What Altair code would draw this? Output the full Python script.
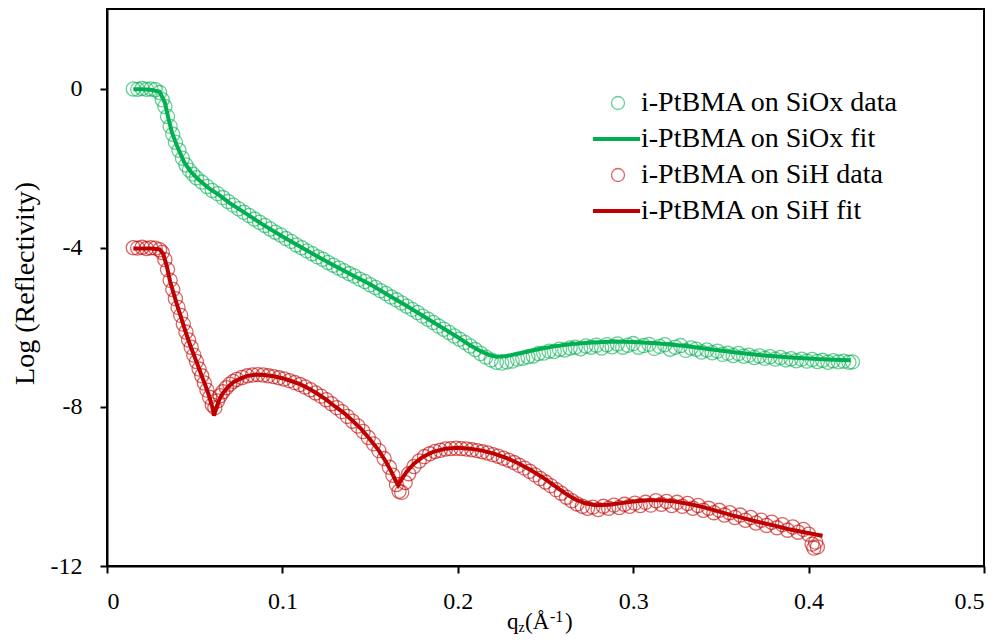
import altair as alt
import pandas as pd

S1 = "i-PtBMA on SiOx data"
S2 = "i-PtBMA on SiOx fit"
S3 = "i-PtBMA on SiH data"
S4 = "i-PtBMA on SiH fit"

GREEN = "#00b050"
RED = "#c00000"
FONT = "Liberation Serif"

# ---- i-PtBMA on SiOx : data ----
siox_data_q = [0.015, 0.0175, 0.020, 0.0225, 0.025, 0.0275, 0.030, 0.0315, 0.033, 0.0345,
               0.036, 0.0375, 0.039, 0.041, 0.043, 0.045, 0.047, 0.049, 0.051, 0.054,
               0.057, 0.060, 0.063, 0.066, 0.069, 0.072, 0.075, 0.078, 0.081, 0.084,
               0.087, 0.090, 0.093, 0.096, 0.099, 0.102, 0.105, 0.108, 0.111, 0.114,
               0.117, 0.120, 0.123, 0.126, 0.129, 0.132, 0.135, 0.138, 0.141, 0.144,
               0.147, 0.150, 0.153, 0.156, 0.159, 0.162, 0.165, 0.168, 0.171, 0.174,
               0.177, 0.180, 0.183, 0.186, 0.189, 0.192, 0.195, 0.198, 0.201, 0.204,
               0.207, 0.210, 0.213, 0.216, 0.219, 0.222, 0.225, 0.228, 0.231, 0.234,
               0.237, 0.240, 0.243, 0.246, 0.249, 0.252, 0.255, 0.258, 0.261, 0.264,
               0.267, 0.270, 0.273, 0.276, 0.279, 0.282, 0.285, 0.288, 0.291, 0.294,
               0.297, 0.300, 0.303, 0.306, 0.309, 0.312, 0.315, 0.318, 0.321, 0.324,
               0.327, 0.330, 0.333, 0.336, 0.339, 0.342, 0.345, 0.348, 0.351, 0.354,
               0.357, 0.360, 0.363, 0.366, 0.369, 0.372, 0.375, 0.378, 0.381, 0.384,
               0.387, 0.390, 0.393, 0.396, 0.399, 0.402, 0.405, 0.408, 0.411, 0.414,
               0.417, 0.420, 0.423, 0.425]
siox_data_r = [-0.01, -0.02, 0.00, -0.02, -0.01, -0.03, -0.10, -0.28, -0.45, -0.70,
               -0.95, -1.15, -1.35, -1.55, -1.75, -1.92, -2.05, -2.15, -2.24, -2.35,
               -2.46, -2.56, -2.64, -2.74, -2.84, -2.93, -3.02, -3.11, -3.19, -3.28,
               -3.36, -3.44, -3.53, -3.61, -3.68, -3.77, -3.84, -3.93, -4.00, -4.08,
               -4.15, -4.23, -4.29, -4.37, -4.44, -4.51, -4.58, -4.65, -4.71, -4.79,
               -4.85, -4.93, -5.00, -5.08, -5.15, -5.24, -5.31, -5.39, -5.47, -5.55,
               -5.63, -5.72, -5.80, -5.88, -5.97, -6.05, -6.13, -6.22, -6.30, -6.38,
               -6.47, -6.56, -6.66, -6.75, -6.82, -6.88, -6.90, -6.87, -6.85, -6.80,
               -6.78, -6.74, -6.72, -6.66, -6.65, -6.60, -6.61, -6.55, -6.57, -6.52,
               -6.50, -6.54, -6.47, -6.50, -6.45, -6.52, -6.44, -6.49, -6.42, -6.50,
               -6.45, -6.41, -6.50, -6.46, -6.43, -6.53, -6.48, -6.44, -6.55, -6.50,
               -6.46, -6.58, -6.52, -6.55, -6.62, -6.57, -6.64, -6.60, -6.68, -6.65,
               -6.71, -6.66, -6.73, -6.70, -6.76, -6.72, -6.78, -6.74, -6.80, -6.76,
               -6.82, -6.79, -6.84, -6.80, -6.85, -6.81, -6.86, -6.83, -6.88, -6.84,
               -6.87, -6.85, -6.88, -6.87]

# ---- i-PtBMA on SiOx : fit ----
siox_fit_q = [0.015, 0.020, 0.025, 0.030, 0.033, 0.035, 0.037, 0.040, 0.044, 0.048,
              0.052, 0.058, 0.064, 0.070, 0.076, 0.083, 0.090, 0.100, 0.110, 0.120,
              0.130, 0.140, 0.150, 0.160, 0.170, 0.180, 0.190, 0.200, 0.207, 0.213,
              0.218, 0.222, 0.228, 0.235, 0.245, 0.255, 0.265, 0.277, 0.290, 0.300,
              0.315, 0.330, 0.345, 0.360, 0.375, 0.390, 0.405, 0.418, 0.424]
siox_fit_r = [-0.02, -0.02, -0.03, -0.08, -0.35, -0.75, -1.10, -1.45, -1.85, -2.10,
              -2.28, -2.50, -2.68, -2.88, -3.05, -3.25, -3.45, -3.72, -3.97, -4.22,
              -4.46, -4.69, -4.92, -5.18, -5.44, -5.71, -5.98, -6.25, -6.45, -6.60,
              -6.70, -6.74, -6.72, -6.66, -6.56, -6.48, -6.42, -6.38, -6.36, -6.37,
              -6.41, -6.47, -6.56, -6.64, -6.71, -6.76, -6.80, -6.82, -6.83]

# ---- i-PtBMA on SiH : data ----
sih_data_q = [0.015, 0.0175, 0.020, 0.0225, 0.025, 0.0275, 0.030, 0.0315, 0.033, 0.0345,
              0.036, 0.0375, 0.039, 0.0405, 0.042, 0.0435, 0.045, 0.0465, 0.048, 0.0495,
              0.051, 0.0525, 0.054, 0.0555, 0.057, 0.0585, 0.060, 0.0615, 0.063, 0.0645,
              0.066, 0.068, 0.070, 0.072, 0.074, 0.077, 0.080, 0.083, 0.086, 0.089,
              0.092, 0.095, 0.098, 0.101, 0.104, 0.107, 0.110, 0.113, 0.116, 0.119,
              0.122, 0.125, 0.128, 0.131, 0.134, 0.137, 0.140, 0.143, 0.146, 0.149,
              0.152, 0.155, 0.158, 0.161, 0.163, 0.165, 0.1665, 0.168, 0.170, 0.172,
              0.175, 0.178, 0.181, 0.184, 0.187, 0.190, 0.193, 0.196, 0.199, 0.202,
              0.205, 0.208, 0.211, 0.214, 0.217, 0.220, 0.223, 0.226, 0.229, 0.232,
              0.235, 0.238, 0.241, 0.244, 0.247, 0.250, 0.253, 0.256, 0.259, 0.262,
              0.265, 0.268, 0.271, 0.274, 0.277, 0.280, 0.283, 0.286, 0.289, 0.292,
              0.295, 0.298, 0.301, 0.304, 0.307, 0.310, 0.313, 0.316, 0.319, 0.322,
              0.325, 0.328, 0.331, 0.334, 0.337, 0.340, 0.343, 0.346, 0.349, 0.352,
              0.355, 0.358, 0.361, 0.364, 0.367, 0.370, 0.373, 0.376, 0.379, 0.382,
              0.385, 0.388, 0.391, 0.394, 0.397, 0.400, 0.402, 0.403, 0.404, 0.405]
sih_data_r = [-4.00, -4.01, -3.99, -4.02, -4.00, -4.01, -4.05, -4.12, -4.30, -4.55,
              -4.82, -5.05, -5.28, -5.50, -5.70, -5.92, -6.12, -6.32, -6.50, -6.70,
              -6.86, -7.05, -7.22, -7.40, -7.58, -7.76, -7.95, -8.02, -7.85, -7.72,
              -7.62, -7.52, -7.43, -7.36, -7.31, -7.26, -7.22, -7.20, -7.19, -7.20,
              -7.22, -7.24, -7.27, -7.30, -7.34, -7.39, -7.44, -7.50, -7.57, -7.65,
              -7.73, -7.82, -7.92, -8.02, -8.12, -8.24, -8.36, -8.48, -8.62, -8.77,
              -8.93, -9.10, -9.30, -9.52, -9.72, -9.95, -10.12, -10.15, -9.90, -9.68,
              -9.50, -9.36, -9.25, -9.18, -9.12, -9.09, -9.06, -9.05, -9.04, -9.05,
              -9.06, -9.08, -9.10, -9.13, -9.16, -9.20, -9.24, -9.29, -9.34, -9.40,
              -9.47, -9.54, -9.62, -9.71, -9.80, -9.89, -9.98, -10.08, -10.17, -10.27,
              -10.36, -10.44, -10.50, -10.55, -10.52, -10.58, -10.50, -10.55, -10.47, -10.53,
              -10.45, -10.50, -10.42, -10.48, -10.40, -10.47, -10.36, -10.45, -10.38, -10.48,
              -10.40, -10.50, -10.43, -10.55, -10.48, -10.60, -10.55, -10.66, -10.60, -10.72,
              -10.66, -10.78, -10.72, -10.85, -10.78, -10.92, -10.85, -10.98, -10.90, -11.04,
              -10.96, -11.10, -11.02, -11.15, -11.08, -11.20, -11.45, -11.55, -11.40, -11.52]

# ---- i-PtBMA on SiH : fit ----
sih_fit_q = [0.015, 0.020, 0.025, 0.030, 0.032, 0.034, 0.036, 0.038, 0.040, 0.042,
             0.044, 0.046, 0.048, 0.050, 0.052, 0.054, 0.056, 0.058, 0.060, 0.061,
             0.0625, 0.064, 0.066, 0.069, 0.072, 0.076, 0.080, 0.085, 0.090, 0.095,
             0.100, 0.105, 0.110, 0.115, 0.120, 0.125, 0.130, 0.135, 0.140, 0.145,
             0.150, 0.155, 0.159, 0.162, 0.1645, 0.166, 0.168, 0.171, 0.175, 0.180,
             0.186, 0.193, 0.200, 0.207, 0.214, 0.221, 0.228, 0.235, 0.242, 0.249,
             0.255, 0.261, 0.267, 0.273, 0.279, 0.286, 0.293, 0.300, 0.308, 0.316,
             0.324, 0.332, 0.340, 0.348, 0.356, 0.364, 0.372, 0.380, 0.388, 0.396,
             0.404, 0.408]
sih_fit_r = [-4.02, -4.02, -4.02, -4.04, -4.15, -4.45, -4.85, -5.15, -5.45, -5.72,
             -6.00, -6.27, -6.52, -6.75, -6.98, -7.22, -7.45, -7.70, -8.00, -8.22,
             -8.00, -7.82, -7.66, -7.50, -7.38, -7.29, -7.22, -7.19, -7.20, -7.23,
             -7.28, -7.35, -7.43, -7.54, -7.67, -7.82, -7.99, -8.15, -8.35, -8.56,
             -8.82, -9.10, -9.38, -9.62, -9.85, -9.97, -9.82, -9.62, -9.43, -9.26,
             -9.13, -9.05, -9.03, -9.05, -9.10, -9.18, -9.29, -9.43, -9.60, -9.79,
             -9.98, -10.17, -10.33, -10.43, -10.47, -10.46, -10.42, -10.38, -10.35, -10.35,
             -10.38, -10.44, -10.52, -10.62, -10.72, -10.81, -10.90, -10.98, -11.07, -11.14,
             -11.21, -11.24]

SERIES = [S1, S2, S3, S4]
x_ticks = [0, 0.1, 0.2, 0.3, 0.4, 0.5]
y_ticks = [-12, -8, -4, 0]

pts = pd.concat([
    pd.DataFrame({"q": siox_data_q, "r": siox_data_r, "series": S1}),
    pd.DataFrame({"q": sih_data_q, "r": sih_data_r, "series": S3}),
])
fits = pd.concat([
    pd.DataFrame({"q": siox_fit_q, "r": siox_fit_r, "series": S2}),
    pd.DataFrame({"q": sih_fit_q, "r": sih_fit_r, "series": S4}),
])

LINE_SYM = "M-3.85,0L3.4,0"


def legend():
    return alt.Legend(
        title=None, orient="none", legendX=497, legendY=80, padding=0,
        labelFont=FONT, labelFontSize=28, labelColor="black", labelLimit=0,
        labelOffset=9, rowPadding=8, symbolSize=169,
    )


color = alt.Color("series:N",
                  scale=alt.Scale(domain=SERIES, range=[GREEN, GREEN, RED, RED]),
                  legend=legend())
shape = alt.Shape("series:N",
                  scale=alt.Scale(domain=SERIES, range=["circle", LINE_SYM, "circle", LINE_SYM]),
                  legend=legend())
swidth = alt.StrokeWidth("series:N",
                         scale=alt.Scale(type="ordinal", domain=SERIES, range=[1.3, 4, 1.3, 4]),
                         legend=legend())
opac = alt.Opacity("series:N",
                   scale=alt.Scale(type="ordinal", domain=SERIES, range=[0.6, 1, 0.6, 1]),
                   legend=legend())

x_enc = alt.X("q:Q", scale=alt.Scale(domain=[0, 0.5], nice=False, zero=False),
              axis=alt.Axis(values=x_ticks, format="~g", title=None, grid=False,
                            labelPadding=16))
y_enc = alt.Y("r:Q", scale=alt.Scale(domain=[-12, 2], nice=False, zero=False),
              axis=alt.Axis(values=y_ticks, labelExpr="datum.value + ''",
                            title="Log (Reflectivity)", titleX=-82, titleY=274,
                            titleAngle=270, titleAlign="center", titleBaseline="middle",
                            titleFont=FONT, titleFontSize=28, titleFontWeight="normal",
                            titleColor="black", grid=False, labelPadding=18))

points = alt.Chart(pts).mark_point(filled=False, size=200).encode(
    x=x_enc, y=y_enc, color=color, shape=shape, strokeWidth=swidth, opacity=opac)
lines = alt.Chart(fits).mark_line().encode(
    x=x_enc, y=y_enc, color=color, strokeWidth=swidth, opacity=opac, detail="series:N")


# x-axis title q_z(Å^-1) built from pieces
def piece(text, size, x, y):
    return alt.Chart(alt.Data(values=[{"t": text}])).mark_text(
        font=FONT, fontSize=size, align="left", baseline="alphabetic", color="black"
    ).encode(text="t:N", x=alt.value(x), y=alt.value(y))


title_parts = [
    piece("q", 23, 400, 620),
    piece("z", 14, 411.5, 623),
    piece("(Å", 23, 418, 620),
    piece("-1", 16, 443, 613),
    piece(")", 23, 458, 620),
]

chart = alt.layer(points, lines, *title_parts).properties(
    width=877, height=557,
    padding={"left": 99, "top": 1, "right": 16, "bottom": 68},
    autosize=alt.AutoSizeParams(type="none"),
).configure_view(
    stroke="black", strokeWidth=2
).configure_axis(
    domainColor="black", domainWidth=2, tickColor="black", tickWidth=2, tickSize=7,
    labelFont=FONT, labelFontSize=24, labelColor="black",
)

chart.save("out.html", embed_options={"renderer": "svg", "actions": False})
